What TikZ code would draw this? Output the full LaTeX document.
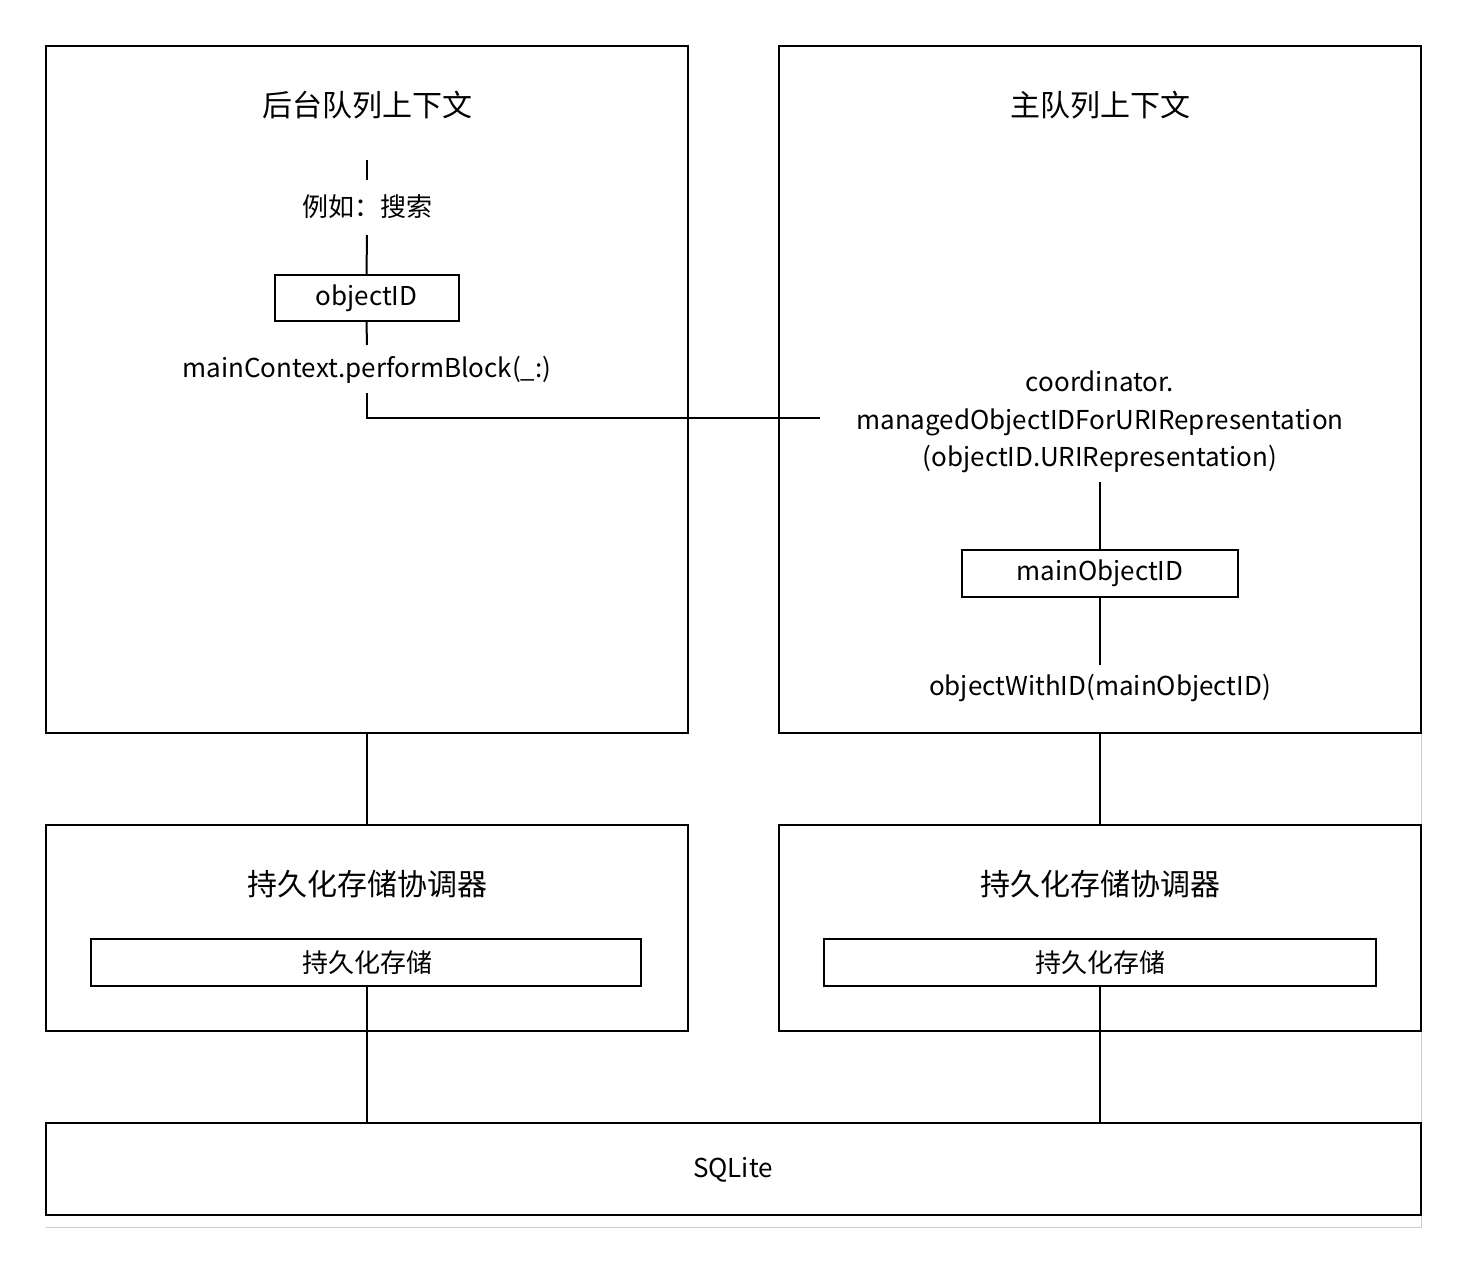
\documentclass[tikz,border=0pt]{standalone}
\usepackage{fontspec}
\setmainfont{Noto Sans CJK SC}
\begin{document}
\begin{tikzpicture}[x=1pt,y=-1pt,
  box/.style={draw,line width=2pt},
  ln/.style={line width=2pt},
  txt/.style={font=\fontsize{26}{32}\selectfont,inner sep=0pt},
  ttl/.style={font=\fontsize{30}{36}\selectfont,inner sep=0pt}]
\useasboundingbox (0,0) rectangle (1467,1263);
\draw[gray!40,line width=1pt] (1421,733) -- (1421,1227) -- (46,1227);
% big boxes
\draw[box] (46,46) rectangle (688,733);
\draw[box] (779,46) rectangle (1421,733);
\draw[box] (46,825) rectangle (688,1031);
\draw[box] (779,825) rectangle (1421,1031);
\draw[box] (91,939) rectangle (641,986);
\draw[box] (824,939) rectangle (1376,986);
\draw[box] (46,1123) rectangle (1421,1215);
\node[ttl] (t1) at (367,105) {后台队列上下文};
\node[ttl] (t2) at (1100,105) {主队列上下文};
\node[ttl] (c1) at (367,884) {持久化存储协调器};
\node[ttl] (c2) at (1100,884) {持久化存储协调器};
\node[txt] (s1) at (367,963) {持久化存储};
\node[txt] (s2) at (1100,963) {持久化存储};
\node[txt] (sq) at (733,1170) {SQLite};
% left flow
\coordinate (a0) at (367,160);
\node[txt] (ex) at (367,207) {例如：搜索};
\node[draw,line width=2pt,minimum width=184pt,minimum height=46pt,txt] (oid) at (366.5,298) {objectID};
\node[txt] (mc) at (367,370) {mainContext.performBlock(\_:)};
\draw[ln] (a0) -- (367,180);
\draw[ln] (367,235) -- (oid.north);
\draw[ln] (oid.south) -- (367,345);
\coordinate (h1) at (820,418);
\draw[ln] (367,393) |- (h1);
% right flow
\node[txt,align=center,font=\fontsize{26}{37.5}\selectfont] (co) at (1100,422) {coordinator.\\managedObjectIDForURIRepresentation\\(objectID.URIRepresentation)};
\node[draw,line width=2pt,minimum width=276pt,minimum height=47pt,txt] (moid) at (1100,573.5) {mainObjectID};
\node[txt] (ow) at (1100,688) {objectWithID(mainObjectID)};
\draw[ln] (1100,482) -- (moid.north);
\draw[ln] (moid.south) -- (1100,665);
% connectors
\draw[ln] (367,733) -- (367,825);
\draw[ln] (1100,733) -- (1100,825);
\draw[ln] (367,986) -- (367,1123);
\draw[ln] (1100,986) -- (1100,1123);
\end{tikzpicture}
\end{document}
